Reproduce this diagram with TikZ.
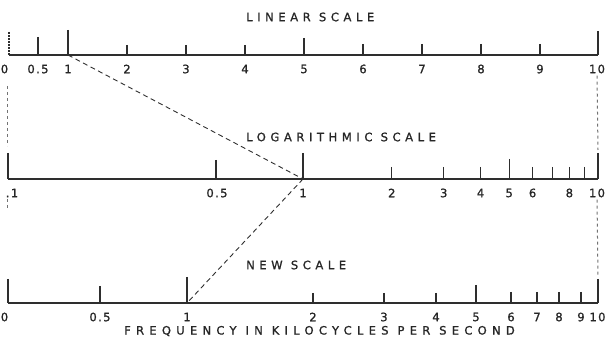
\documentclass[tikz,border=0pt]{standalone}
\usepackage{fontspec}
\setmainfont{DejaVu Sans}
\newfontfamily\titlefont[LetterSpace=40,FakeBold=1.2]{DejaVu Sans}
\newfontfamily\freqfont[LetterSpace=46,FakeBold=1.2]{DejaVu Sans}
\newfontfamily\numfont[LetterSpace=12,FakeBold=1.2]{DejaVu Sans}
\begin{document}
\begin{tikzpicture}[x=1pt,y=-1pt,
  ink/.style={draw=black!82},
  axisline/.style={ink,line width=1.8pt},
  tk/.style={ink,line width=1.2pt},
  endtk/.style={ink,line width=1.6pt},
  conn/.style={ink,line width=0.9pt,dash pattern=on 5pt off 3.5pt},
  vguide/.style={draw=black!55,line width=1pt,dash pattern=on 3pt off 3pt},
  num/.style={text=black!85,font=\fontsize{11.5}{11.5}\selectfont\numfont,inner sep=0pt,anchor=center},
  ttl/.style={text=black!85,font=\fontsize{11.5}{11.5}\selectfont\titlefont,inner sep=0pt,anchor=west}]
\useasboundingbox (0,0) rectangle (606,350);
% ---------------- LINEAR SCALE ----------------
\node[ttl] (tlin) at (246,17) {LINEAR SCALE};
\draw[axisline] (9,55) -- (598,55);
\draw[ink,line width=1.2pt,dash pattern=on 2pt off 1pt] (9,32) -- (9,55);
\draw[tk] (38,37) -- (38,55);
\draw[endtk] (68,30) coordinate (lin1top) -- (68,55) coordinate (lin1);
\foreach \v/\h in {2/45,3/45,4/45,5/38,6/44,7/44,8/44,9/44}
  \draw[tk] ({9+59*\v},\h) -- ({9+59*\v},55);
\draw[endtk] (598,31) -- (598,55) coordinate (lin10);
\node[num] (l0) at (4.5,69) {0};
\node[num] (l05) at (38,69) {0.5};
\foreach \v in {1,...,9}
  \node[num] (l\v) at ({9+59*\v},69) {\v};
\node[num] (l10) at (597,69) {10};
% ---------------- LOGARITHMIC SCALE ----------------
\node[ttl] (tlog) at (246,137) {LOGARITHMIC SCALE};
\draw[axisline] (8,179) -- (598,179);
\draw[endtk] (8,153) -- (8,179) coordinate (log01);
\draw[tk] (216,160) -- (216,179);
\draw[endtk] (303,153) -- (303,179) coordinate (log1);
\foreach \v/\h in {2/167,3/167,4/167,5/159,6/167,7/167,8/167,9/167}
  \draw[tk] ({303+295*log10(\v)},\h) -- ({303+295*log10(\v)},179);
\draw[endtk] (598,153) -- (598,179) coordinate (log10);
\node[num] (g01) at (12,193) {.1};
\node[num] (g05) at (217,193) {0.5};
\node[num] (g1) at (303,193) {1};
\foreach \v in {2,3,4,5,6,8}
  \node[num] (g\v) at ({303+295*log10(\v)},193) {\v};
\node[num] (g10) at (597,193) {10};
% ---------------- NEW SCALE ----------------
\node[ttl] (tnew) at (246,265) {NEW SCALE};
\draw[axisline] (8,303) -- (598,303);
\draw[endtk] (8,279) -- (8,303);
\draw[tk] (100,286) -- (100,303);
\draw[endtk] (187,277) -- (187,303) coordinate (new1);
\foreach \x/\h in {313/293,384/293,436/293,476/285,511/292,537/292,559/292,581/292}
  \draw[tk] (\x,\h) -- (\x,303);
\draw[endtk] (598,279) -- (598,303) coordinate (new10);
\node[num] (n0) at (4.5,317) {0};
\node[num] (n05) at (100,317) {0.5};
\node[num] (n1) at (187,317) {1};
\foreach \x/\v in {313/2,384/3,436/4,476/5,511/6,537/7,559/8,581/9}
  \node[num] (n\v) at (\x,317) {\v};
\node[num] (n10) at (597.5,317) {10};
\node[ttl,font=\fontsize{11.5}{11.5}\selectfont\freqfont] (tfreq) at (124,331) {FREQUENCY IN KILOCYCLES PER SECOND};
% ---------------- connectors ----------------
\draw[conn] (lin1) -- (log1);
\draw[conn] (log1) -- (new1);
\draw[vguide] (l10.south) ++(0,2) -- (598,150);
\draw[vguide] (g10.south) ++(0,2) -- (598,276);
\draw[vguide] (7,86) -- (7,146);
\draw[vguide] (7,199) -- (7,211);
\end{tikzpicture}
\end{document}
